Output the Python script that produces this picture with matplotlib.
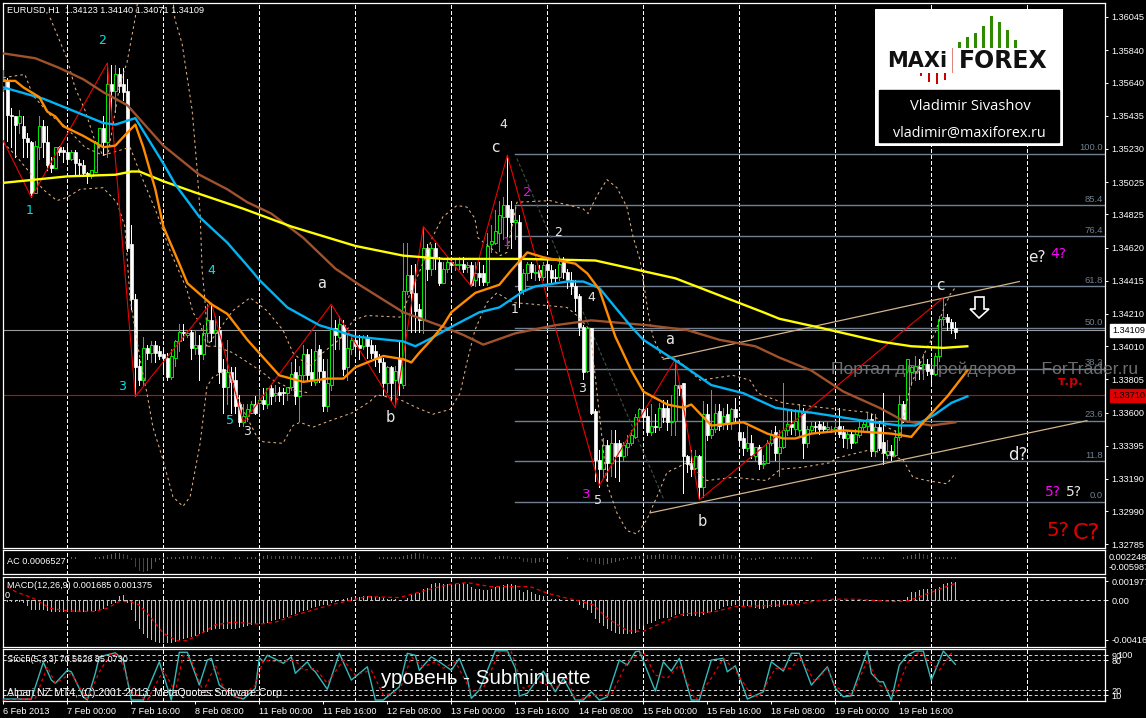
"""EURUSD H1 terminal screenshot: candles, moving averages, bands, wave marks,
Fibonacci levels and AC / MACD / Stochastic panes."""
import numpy as np
import matplotlib
matplotlib.use("Agg")
import matplotlib.pyplot as plt
from matplotlib.patches import Polygon, Rectangle

W, H = 1146, 718
PIP = 1e-4

# ---- candles, prices in pips (1.3560 -> 13560) -------------------------
opens = [
    13560,13565,13544,13543,13539,13537,13530,13527,13496,13524,
    13537,13527,13513,13511,13524,13522,13521,13517,13521,13514,
    13513,13508,13506,13509,13525,13536,13527,13563,13559,13569,
    13563,13559,13464,13430,13389,13380,13400,13397,13402,13398,
    13396,13394,13382,13394,13404,13410,13408,13410,13400,13402,
    13396,13409,13417,13409,13411,13387,13376,13385,13380,13365,
    13354,13358,13360,13365,13366,13368,13365,13375,13371,13373,
    13373,13372,13376,13385,13370,13383,13396,13385,13379,13399,
    13386,13364,13377,13412,13407,13414,13388,13399,13405,13402,
    13401,13407,13402,13398,13394,13391,13378,13388,13380,13394,
    13377,13435,13445,13434,13424,13417,13462,13449,13462,13453,
    13440,13449,13453,13451,13451,13452,13450,13451,13442,13446,
    13446,13441,13464,13465,13471,13481,13488,13486,13478,13478,
    13435,13446,13452,13446,13448,13444,13452,13448,13444,13444,
    13453,13447,13442,13438,13432,13413,13386,13412,13361,13331,
    13325,13340,13329,13341,13341,13333,13339,13341,13345,13357,
    13362,13358,13348,13352,13351,13363,13363,13354,13355,13377,
    13378,13333,13329,13326,13333,13314,13359,13346,13350,13361,
    13353,13359,13354,13362,13348,13344,13338,13341,13333,13339,
    13328,13329,13341,13348,13335,13339,13349,13353,13350,13349,
    13360,13341,13349,13352,13353,13352,13350,13350,13350,13352,
    13348,13344,13347,13342,13346,13351,13352,13356,13336,13351,
    13342,13334,13336,13334,13345,13365,13355,13385,13386,13388,
    13387,13390,13387,13384,13395,13418,13419,13416,13412,
]
highs = [
    13572,13567,13548,13543,13547,13543,13533,13528,13528,13543,
    13541,13537,13518,13524,13525,13524,13524,13522,13522,13517,
    13516,13509,13510,13528,13536,13543,13576,13575,13575,13573,
    13573,13566,13476,13433,13393,13407,13402,13404,13404,13401,
    13399,13397,13399,13405,13415,13415,13411,13411,13411,13408,
    13414,13427,13427,13420,13420,13393,13405,13388,13388,13371,
    13365,13365,13367,13370,13374,13375,13375,13377,13377,13376,
    13375,13376,13391,13393,13389,13402,13399,13399,13410,13402,
    13393,13393,13426,13417,13420,13417,13408,13408,13411,13408,
    13408,13408,13405,13402,13396,13394,13389,13389,13389,13405,
    13465,13465,13451,13452,13427,13474,13464,13464,13465,13456,
    13453,13456,13456,13454,13456,13456,13453,13453,13453,13453,
    13451,13471,13476,13485,13491,13493,13519,13491,13488,13482,
    13449,13453,13453,13451,13451,13453,13454,13451,13449,13456,
    13456,13449,13447,13442,13433,13414,13412,13412,13362,13337,
    13344,13343,13349,13349,13343,13342,13346,13349,13359,13363,
    13372,13363,13365,13359,13366,13368,13368,13371,13393,13378,
    13378,13334,13337,13337,13334,13367,13365,13374,13365,13365,
    13363,13365,13363,13369,13355,13348,13352,13346,13339,13340,
    13334,13343,13349,13352,13349,13378,13362,13362,13362,13365,
    13363,13352,13354,13354,13355,13354,13354,13352,13354,13363,
    13352,13349,13349,13350,13355,13355,13360,13359,13359,13355,
    13372,13343,13340,13349,13371,13367,13393,13389,13395,13393,
    13396,13393,13394,13397,13420,13431,13421,13418,13416,
]
lows = [
    13559,13528,13524,13518,13533,13518,13518,13493,13496,13517,
    13518,13510,13509,13511,13519,13515,13515,13516,13507,13507,
    13506,13502,13505,13509,13524,13519,13518,13546,13546,13558,
    13553,13460,13424,13370,13377,13377,13393,13391,13391,13393,
    13386,13380,13381,13389,13398,13405,13407,13393,13396,13380,
    13393,13405,13404,13402,13378,13360,13365,13360,13360,13352,
    13352,13355,13360,13359,13360,13362,13363,13365,13367,13367,
    13365,13368,13374,13365,13355,13380,13380,13377,13377,13379,
    13361,13361,13374,13399,13399,13383,13380,13396,13396,13393,
    13399,13394,13394,13389,13385,13371,13373,13368,13365,13371,
    13375,13433,13410,13410,13410,13409,13442,13445,13449,13439,
    13440,13447,13447,13448,13449,13447,13447,13438,13438,13439,
    13439,13439,13459,13464,13460,13467,13467,13462,13467,13425,
    13433,13442,13443,13442,13442,13442,13442,13440,13441,13442,
    13443,13437,13433,13423,13408,13381,13385,13359,13318,13314,
    13320,13318,13321,13320,13318,13331,13334,13340,13344,13355,
    13352,13346,13346,13348,13349,13354,13349,13346,13346,13371,
    13310,13323,13321,13325,13307,13308,13343,13344,13348,13349,
    13350,13350,13350,13355,13340,13334,13336,13332,13331,13325,
    13326,13329,13340,13331,13321,13338,13346,13347,13346,13346,
    13332,13339,13348,13348,13347,13348,13348,13348,13349,13345,
    13339,13338,13338,13341,13345,13349,13349,13333,13333,13337,
    13328,13332,13331,13333,13343,13354,13354,13377,13380,13381,
    13381,13383,13379,13383,13392,13414,13411,13409,13406,
]
closes = [
    13566,13544,13543,13538,13543,13530,13527,13496,13525,13537,
    13527,13513,13511,13524,13521,13521,13517,13521,13514,13513,
    13508,13506,13510,13527,13536,13527,13563,13559,13569,13562,
    13558,13462,13430,13388,13380,13400,13397,13402,13397,13395,
    13394,13382,13395,13404,13410,13409,13409,13400,13402,13396,
    13409,13417,13409,13411,13385,13376,13385,13379,13364,13354,
    13358,13362,13365,13360,13368,13365,13375,13370,13372,13371,
    13372,13376,13384,13370,13383,13396,13383,13380,13398,13386,
    13364,13378,13412,13408,13415,13387,13400,13405,13401,13400,
    13407,13401,13397,13393,13391,13378,13388,13378,13386,13378,
    13435,13445,13434,13423,13417,13462,13449,13462,13456,13440,
    13449,13453,13451,13452,13452,13449,13451,13439,13446,13444,
    13441,13463,13466,13472,13482,13488,13481,13478,13479,13436,
    13446,13452,13447,13447,13444,13451,13448,13443,13443,13452,
    13447,13442,13438,13431,13413,13385,13412,13360,13331,13325,
    13340,13329,13341,13333,13333,13340,13341,13346,13357,13362,
    13357,13348,13352,13351,13363,13357,13354,13355,13377,13375,
    13333,13328,13325,13333,13314,13359,13346,13350,13360,13352,
    13358,13353,13362,13357,13343,13338,13341,13334,13339,13328,
    13329,13341,13347,13335,13339,13349,13353,13351,13355,13361,
    13341,13350,13352,13351,13350,13350,13351,13350,13351,13347,
    13344,13347,13341,13347,13351,13353,13356,13336,13351,13338,
    13335,13336,13334,13345,13365,13355,13393,13388,13389,13387,
    13390,13386,13384,13395,13418,13419,13416,13412,13410,
]

# ---- moving averages (bar index, price in pips) ------------------------
yellow_x = [0,16,28,32,34,40,48,60,72,88,100,110,130,148,168,190,194,205,219,227,235,241]
yellow_y = [13502,13506,13507,13509,13509,13503,13496,13486,13475,13463,13457,13455,13455,13454,
            13443,13422,13418,13412,13404,13401,13400,13401]
blue_x = [0,10,16,25,28,33,40,43,49,56,62,64,71,79,83,88,100,103,107,112,119,124,130,133,141,145,
          149,157,160,170,177,185,193,198,202,215,224,228,233,237,241]
blue_y = [13561,13554,13548,13539,13538,13542,13514,13501,13481,13465,13448,13442,13425,13414,13411,
          13407,13404,13401,13406,13413,13422,13425,13435,13438,13441,13441,13437,13413,13405,13389,
          13377,13372,13363,13361,13360,13355,13352,13352,13359,13366,13370]
orange_x = [0,3,5,9,11,13,15,20,25,28,31,33,35,38,40,44,46,52,56,61,65,69,75,81,85,88,95,100,102,
            104,107,110,112,118,124,127,131,135,143,146,149,153,157,160,166,170,172,177,185,191,195,
            198,202,210,222,227,230,236,241]
orange_y = [13565,13565,13561,13555,13546,13543,13537,13531,13524,13525,13533,13538,13524,13498,13475,
            13452,13440,13427,13421,13405,13394,13383,13379,13381,13381,13388,13395,13393,13391,13397,
            13405,13414,13422,13434,13439,13448,13459,13456,13452,13446,13436,13407,13386,13373,13365,
            13363,13365,13352,13354,13347,13344,13344,13347,13349,13347,13345,13354,13370,13386]
brown_x = [0,8,14,20,25,31,40,43,49,56,61,67,75,83,89,100,110,115,120,128,138,147,161,171,179,188,
           194,202,210,219,225,232,238]
brown_y = [13582,13579,13573,13566,13558,13550,13525,13519,13507,13498,13490,13483,13468,13449,13439,
           13422,13413,13408,13402,13409,13414,13417,13414,13411,13405,13401,13394,13386,13373,13363,
           13355,13352,13354]

# ---- dotted envelope lines ---------------------------------------------
band_a_x = [11.7,15.9,17.9,20.4,22.9,24.9,26.2,29.2,30.9,32.9,36.7,40.4,42.9,44.7,47.2,48.4,49.2,49.7,
            50.4,51.2,52.9,57.4,59.9,64.2,66.7,72.4,76.7]
band_a_y = [13604,13579,13561,13547,13528,13519,13520,13564,13576,13603,13664,13664,13603,13588,13547,
            13512,13483,13448,13430,13401,13401,13397,13393,13386,13381,13374,13372]
band_b_x = [0,5.4,7.4,11.7,15.4,20.4,24.9,31.7,34.2,38.4,41.7,45.9,47.4,49.2,50.9,57.4,61.7,65.9,69.9,
            72.4,74.2,76.7,79.9,84.9,87.4,90.9,99.2,104.2,107.4,109.9,113.4,115.9,117.9,118.7,124.2,
            125.9,128.4,136.7,144.9,146.2,148.4,150.9,153.4,155.9,157.4,159.2,161.2,162.4,164.7,168.4,
            174.2,182.4,186.7,188.7,194.9,204.9,216.7,220.9,224.2,226.7,230.9,232.9,234.9,236.7,237.9]
band_b_y = [13567,13569,13556,13544,13537,13524,13519,13524,13508,13483,13460,13436,13422,13415,13401,
            13423,13431,13423,13411,13397,13393,13389,13397,13407,13417,13420,13419,13448,13469,13481,
            13488,13487,13480,13468,13457,13459,13490,13491,13486,13483,13494,13504,13499,13487,13469,
            13454,13422,13407,13394,13393,13380,13383,13380,13372,13366,13363,13360,13351,13347,13376,
            13400,13409,13423,13433,13437]
band_c_x = [0,3.4,7.4,9.9,13.4,15.9,19.2,24.9,28.4,30.4,31.7,34.2,35.9,37.4,39.9,42.4,44.9,46.7,49.2,
            50.9,52.4,55.9,59.9,63.4,64.9,69.9,72.4,74.2,77.4,81.7,87.4,91.7,93.4,99.2,103.4,107.4,
            111.7,114.2,115.9,117.9,120.9,123.4,127.4,132.4,140.9,143.4,146.7,149.2,150.9,153.4,155.9,
            158.4,160.9,163.4,165.9,170.9,175.9,182.4,190.9,194.2,199.2,206.7,208.4,216.7,224.9,227.4,
            230.9,235.9,237.9]
band_c_y = [13527,13518,13506,13498,13491,13493,13498,13499,13490,13475,13430,13393,13372,13351,13331,
            13308,13302,13308,13341,13376,13382,13386,13362,13345,13342,13341,13352,13354,13351,13355,
            13360,13367,13371,13368,13363,13359,13362,13372,13391,13411,13428,13434,13428,13427,13425,
            13420,13411,13355,13316,13298,13287,13285,13294,13308,13323,13329,13318,13320,13318,13325,
            13326,13329,13332,13337,13331,13320,13318,13316,13322]

# ---- wave zigzag, channel, Fibonacci -----------------------------------
zigzag_x = [0,7,26,33,52,60,82,98,105,117,126,149,168,174,235]
zigzag_y = [13528,13493,13576,13370,13428,13354,13427,13363,13475,13438,13519,13315,13393,13306,13431]
channel_up_x, channel_up_y = [165,254], [13393,13441]
channel_low_x, channel_low_y = [161.7,270.9], [13298,13355]
fib_diag_x, fib_diag_y = [128.4,165], [13517,13307]
fib_pct = ["100.0","85.4","76.4","61.8","50.0","38.2","23.6","11.8","0.0"]
fib_y = [13520,13488,13469,13438,13412,13387,13355,13330,13305]
bid_price = 1.34109
level_price = 1.33710
price_ticks = [1.36045,1.35840,1.35640,1.35435,1.35230,1.35025,1.34825,1.34620,1.34415,
               1.34210,1.34010,1.33805,1.33600,1.33395,1.33190,1.32990,1.32785]

# ---- indicator panes ---------------------------------------------------
AC_UNIT = 1.2e-4
ac_hist = [
    3,0,0,0,0,0,0,0,0,0, 0,0,0,0,0,0,0,2,2,0, 0,0,0,3,4,6,8,12,14,14,
    12,8,-3,-25,-35,-40,-35,-30,-8,-2, 2,3,3,3,4,5,5,6,5,4, 5,4,5,4,3,3,0,0,2,2,
    0,2,2,3,5,6,8,7,6,6, 6,5,5,5,5,4,4,4,4,4, 3,3,3,4,5,6,6,6,7,5,
    0,0,0,0,3,3,3,3,3,3, 5,8,13,15,14,12,5,3,2,2, 2,0,0,2,2,2,0,2,2,2,
    2,0,0,3,5,7,5,4,3,3, -8,-10,-12,-12,-10,-8,0,0,0,0, 0,2,0,0,-2,-3,-8,-10,-15,-15,
    -18,-15,-12,-8,-5,-2,2,4,5,6, 7,8,9,10,12,12,10,8,8,6, 6,4,5,5,4,3,2,5,7,10,
    12,10,8,6,4,3,-3,-2,-2,2, 2,0,0,2,2,3,3,3,3,3, 2,2,2,0,0,0,0,0,0,0,
    0,0,0,0,0,2,2,2,2,2, 2,0,0,0,0,3,5,8,12,14, 12,10,3,3,3,3,4,4,4,
]
MACD_UNIT = 3.5e-5
macd_hist = [
    -2,-2,-2,-3,-3,-5,-15,-25,-25,-25, -27,-30,-33,-33,-32,-32,-32,-32,-33,-33,
    -33,-33,-30,-28,-25,-22,-15,-8,-5,12, 15,-5,-25,-60,-85,-100,-112,-118,-122,-125,
    -125,-125,-125,-123,-118,-115,-112,-108,-105,-100, -95,-92,-88,-85,-85,-85,-85,-85,-83,-80,
    -78,-75,-72,-70,-68,-68,-65,-60,-58,-55, -50,-48,-42,-38,-32,-28,-25,-20,-18,-15,
    -12,-10,-5,-2,0,5,8,10,10,10, 12,12,12,10,10,8,5,3,3,2,
    2,8,15,22,22,35,38,50,52,52, 50,50,50,48,50,52,48,40,35,35,
    32,30,35,40,42,45,50,48,45,30, 25,30,25,20,15,12,10,5,3,3,
    2,0,0,0,-10,-20,-25,-35,-55,-65, -75,-85,-90,-95,-98,-100,-100,-100,-95,-85,
    -75,-70,-65,-60,-55,-50,-50,-48,-40,-38, -45,-45,-45,-45,-48,-40,-35,-32,-25,-22,
    -18,-15,-15,-12,-10,-15,-15,-18,-20,-22, -22,-20,-18,-18,-17,-10,-10,-8,-8,-5,
    2,2,2,2,2,0,0,0,0,0, 0,0,0,0,0,0,0,0,0,0,
    0,0,0,0,0,2,10,25,25,30, 33,33,33,33,40,48,52,55,55,
]
signal_x = [1,3,7.5,11.7,16,22.5,26,29,31.7,34,36.7,40,43.3,45.8,49,53,57.5,64,68,74,82.5,91,99,
            107.5,111.7,116,121.7,126,131.7,136,141,143,147.5,151,156,160,165,170,178,183,191,199,
            200,203,207.5,213,222.5,226,228,232.5,238]
signal_y = [1.44,0.91,0.21,-0.84,-1.12,-1.19,-0.84,-0.14,-0.14,-0.49,-1.72,-3.47,-4.27,-4.27,-3.64,
            -2.59,-2.31,-2.52,-2.31,-1.44,-0.42,0.39,0.28,1.26,1.68,1.86,1.44,1.44,1.44,0.74,0.21,
            0.04,-0.49,-1.89,-3.22,-3.29,-2.31,-1.44,-1.19,-0.67,-0.56,-0.42,-0.32,-0.07,0.11,0.11,
            -0.14,-0.07,0.21,0.91,1.79]
stoch_x = [0,7,10,12,13,16,17,20,21,23,24,28,30,32,35,39,42,44,46,49,51,52,54,58,60,63,64,65,66,68,
           70,72,73,76,77,78,81,84,87,91,93,95,99,
           101,103,104,107,109,112,114,116,117,119,123,126,128,129,131,135,138,140,143,145,147,149,
           151,154,156,158,159,163,165,167,169,172,174,177,180,181,183,186,190,192,195,197,199,
           202,206,208,210,212,215,216,217,219,220,222,224,226,228,230,232,235,238]
stoch_y = [2.5,2.5,76,40.5,34,60,57,7,0.5,54,87,95,80.5,0.5,0.5,77,0.5,96,96,30.5,80.5,84,30.5,7,2.5,
           24,85,77,90,82.5,74,87,54,77,64,57,22,94,40.5,67,0.5,0.5,27,
           94,90,60,87,77,60,84,44,4,20.5,99,99,64,8.5,14,58.5,17,44,0.5,0.5,17,0.5,7,80.5,70.5,97,
           98.5,18.5,77,58.5,84,0.5,0.5,80.5,84,57,69,2.5,17,77,58.5,94,94,
           30.5,67,24,7,9,77,99,54,37,37,0.5,70.5,90,98.5,98.5,40.5,98.5,72]
stoch_sig_x = [0,8,11,13,17,19,21,24,27,29,32,36,40,43,45,47,50,53,55,59,63,65,69,73,75,78,81,85,88,92,95,99,
               102,105,108,110,113,117,120,124,127,130,134,138,141,143,148,152,156,160,163,166,169,173,
               177,180,183,187,189,193,197,199,
               203,206,208,212,213,216,219,223,226,229,232,234,237,238]
stoch_sig_y = [0.5,4,67,34,54,27,2.5,57,94,90,17,0.5,60,17,90,80.5,17,70.5,24,2.5,30.5,80.5,77,80.5,60,64,34,
               80.5,50.5,60,10.5,17,
               87,67,77,64,77,17,24,97,97,24,37,24,44,0.5,10.5,10.5,77,97,50.5,44,70.5,0.5,44,84,60,10.5,7,
               64,64,87,
               37,64,27,12,24,80.5,30.5,14,74,97,74,60,94,90]
stoch_levels = [90,80,20,10]
time_labels = ["6 Feb 2013","7 Feb 00:00","7 Feb 16:00","8 Feb 08:00","11 Feb 00:00","11 Feb 16:00",
               "12 Feb 08:00","13 Feb 00:00","13 Feb 16:00","14 Feb 08:00","15 Feb 00:00","15 Feb 16:00",
               "18 Feb 08:00","19 Feb 00:00","19 Feb 16:00"]

# ---- wave labels: text, x px, y px, colour, size -----------------------
wave_labels = [
    ("1",30,210,"#00e5e5",9),("2",102,40,"#00e5e5",9),("3",122,386,"#00e5e5",9),
    ("4",211,270,"#00e5e5",9),("5",230,421,"#00e5e5",9),
    ("3",247,431,"#e8e8e8",9),("a",322,283,"#e8e8e8",10.5),("b",390,418,"#e8e8e8",10.5),
    ("4",503,125,"#e8e8e8",9),("c",495,147,"#e8e8e8",11),("2",558,232,"#e8e8e8",9),
    ("1",515,310,"#e8e8e8",9),("4",591,298,"#e8e8e8",9),("3",582,389,"#e8e8e8",9),
    ("5",598,501,"#e8e8e8",9),("a",670,340,"#e8e8e8",10.5),("b",702,521,"#e8e8e8",10.5),
    ("c",940,285,"#e8e8e8",11),("e?",1037,258,"#e8e8e8",11),("d?",1018,455,"#e8e8e8",12),
    ("5?",1074,492,"#e8e8e8",10),
    ("2",527,192,"#ff00ff",9.5),("1",507,242,"#ff00ff",9.5),("3",586,494,"#ff00ff",9.5),
    ("4?",1058,254,"#ff00ff",10),("5?",1053,492,"#ff00ff",10),
    ("5?",1058,531,"#e00000",14),("C?",1086,533,"#e00000",16),
]

# logo marks, in logo-local pixels
logo_green_x = [959,967,975,983,991,999,1007,1015]
logo_green_top = [42,37,33,26,16,22,30,40]
logo_red_x = [921,929,937,945]
logo_red_bottom = [76,82,84,80]

plt.rcParams["font.family"] = ["Liberation Sans", "DejaVu Sans"]
plt.rcParams["savefig.facecolor"] = "black"
BASE = 6.6


def add_pane(x0, y0, x1, y1):
    ax = fig.add_axes([x0 / W, 1 - y1 / H, (x1 - x0) / W, (y1 - y0) / H], facecolor="black")
    ax.set_xlim(-0.08, 275.42)
    for s in ax.spines.values():
        s.set_color("white")
        s.set_linewidth(0.9)
    ax.tick_params(colors="white", labelsize=BASE, length=2.5, width=0.7, pad=2,
                   left=False, labelleft=False, right=True, labelright=True,
                   bottom=False, labelbottom=False)
    for k in np.arange(16, 276, 24):
        ax.axvline(k, color="white", lw=0.75, ls=(0, (3, 2.5)), zorder=1, antialiased=False)
    return ax


def label(x, y, s, color="white", size=BASE, ha="left", va="center", **kw):
    return fig.text(x / W, 1 - y / H, s, color=color, fontsize=size, ha=ha, va=va, **kw)


fig = plt.figure(figsize=(W / 100, H / 100), dpi=100, facecolor="black")
ax = add_pane(3, 3, 1105, 548)
ax_ac = add_pane(3, 550, 1105, 574)
ax_macd = add_pane(3, 577, 1105, 647)
ax_st = add_pane(3, 649, 1105, 701)

# ---- main chart --------------------------------------------------------
o = np.array(opens) * PIP
h = np.array(highs) * PIP
l = np.array(lows) * PIP
c = np.array(closes) * PIP
bars = np.arange(len(o))
up = c >= o
GREEN = "#00e600"
ax.vlines(bars[up], l[up], h[up], color=GREEN, lw=0.72, zorder=3, antialiased=False)
ax.vlines(bars[~up], l[~up], h[~up], color="white", lw=0.72, zorder=3, antialiased=False)
ax.bar(bars[up], (c - o)[up], bottom=o[up], width=0.8, facecolor="black", edgecolor=GREEN,
       linewidth=0.72, zorder=4)
ax.bar(bars[~up], (c - o)[~up], bottom=o[~up], width=0.8, facecolor="white", edgecolor="white",
       linewidth=0.5, zorder=4)

ax.axhline(bid_price, color="#9a9a9a", lw=0.8, zorder=2)
ax.axhline(level_price, color="#e00000", lw=0.8, zorder=2)
for pct, lvl in zip(fib_pct, fib_y):
    ax.plot([128, 275.42], [lvl * PIP] * 2, color="#708090", lw=1.0, zorder=2)
ax.plot(np.array(fib_diag_x), np.array(fib_diag_y) * PIP, color="#3d4f45", lw=0.8, ls=(0, (3, 2)), zorder=2)

for xs, ys in [(band_a_x, band_a_y), (band_b_x, band_b_y), (band_c_x, band_c_y)]:
    ax.plot(xs, np.array(ys) * PIP, color="#e0b080", lw=0.75, ls=(0, (2.5, 3)), zorder=5)
ax.plot(channel_up_x, np.array(channel_up_y) * PIP, color="#d2b48c", lw=0.9, zorder=5)
ax.plot(channel_low_x, np.array(channel_low_y) * PIP, color="#d2b48c", lw=0.9, zorder=5)
ax.plot(zigzag_x, np.array(zigzag_y) * PIP, color="#f00000", lw=0.8, zorder=5)

for xs, ys, col in [(brown_x, brown_y, "#a0522d"), (yellow_x, yellow_y, "#ffff00"),
                    (blue_x, blue_y, "#00b4f5"), (orange_x, orange_y, "#ff8c00")]:
    ax.plot(xs, np.array(ys) * PIP, color=col, lw=1.7, zorder=6, solid_joinstyle="round")

ax.set_ylim(1.3615 - 548 / 16180, 1.3615 - 3 / 16180)
ax.set_yticks(price_ticks)
ax.set_yticklabels([f"{p:.5f}" for p in price_ticks])

# ---- AC ----------------------------------------------------------------
ac = np.array(ac_hist) * AC_UNIT
rising = np.r_[True, ac[1:] >= ac[:-1]]
ax_ac.vlines(bars[rising], 0, ac[rising], color="#0a9a0a", lw=0.72, zorder=2, antialiased=False)
ax_ac.vlines(bars[~rising], 0, ac[~rising], color="#e00000", lw=0.72, zorder=2, antialiased=False)
ax_ac.set_ylim(-16 * 3 * AC_UNIT, 8 * 3 * AC_UNIT)
ax_ac.set_yticks([])

# ---- MACD --------------------------------------------------------------
ax_macd.axhline(0, color="#d0d0d0", lw=0.75, ls=(0, (3, 2.5)), zorder=1)
ax_macd.vlines(bars, 0, np.array(macd_hist) * MACD_UNIT, color="#c0c0c0", lw=0.6, zorder=2, antialiased=False)
ax_macd.plot(signal_x, np.array(signal_y) * 1e-3, color="#f00000", lw=0.9, ls=(0, (3, 2.5)), zorder=3)
ax_macd.set_ylim(-0.00493, 0.00245)
ax_macd.set_yticks([0.001977, 0, -0.004163])
ax_macd.set_yticklabels(["0.001977", "0.00", "-0.004163"])

# ---- Stochastic --------------------------------------------------------
for lv in stoch_levels:
    ax_st.axhline(lv, color="#d0d0d0", lw=0.75, ls=(0, (3, 2.5)), zorder=1)
ax_st.plot(stoch_x, stoch_y, color="#36b8b8", lw=1.0, zorder=3)
ax_st.plot(stoch_sig_x, stoch_sig_y, color="#f00000", lw=0.9, ls=(0, (2.5, 2.5)), zorder=3)
ax_st.set_ylim(-1.4, 102.6)
ax_st.set_yticks(stoch_levels)
ax_st.set_yticklabels([str(v) for v in stoch_levels])
ax_st.tick_params(bottom=True, labelbottom=True, axis="x")
ax_st.set_xticks(np.arange(0, 16 * len(time_labels), 16))
ax_st.set_xticklabels(time_labels, ha="left", fontsize=BASE, color="white")

# ---- logo --------------------------------------------------------------
ax_logo = fig.add_axes([875 / W, 1 - 146 / H, 188 / W, 137 / H], facecolor="white", zorder=2)
ax_logo.set_xlim(875, 1063)
ax_logo.set_ylim(146, 9)
ax_logo.axis("off")
ax_logo.add_patch(Rectangle((875, 9), 188, 137, color="white"))
ax_logo.bar(logo_green_x, np.array(logo_green_top) - 48, bottom=48, width=3, color="#2e8b00")
ax_logo.bar(logo_red_x, np.array(logo_red_bottom) - 73, bottom=73, width=2.5, color="#cc0000")
ax_logo.plot([952, 952], [48, 72], color="#e08080", lw=0.7)
ax_logo.add_patch(Rectangle((879, 90), 180, 52, color="black"))
ax_logo.text(917, 61, "MAXi", fontsize=15, fontweight="bold", family="DejaVu Sans", color="#111111",
             ha="center", va="center")
ax_logo.text(1003, 61, "FOREX", fontsize=17, fontweight="bold", family="DejaVu Sans", color="#111111",
             ha="center", va="center")
ax_logo.text(970, 107, "Vladimir Sivashov", fontsize=10.6, color="white", family="Open Sans",
             ha="center", va="center")
ax_logo.text(969, 133, "vladimir@maxiforex.ru", fontsize=10.4, color="white", family="Open Sans",
             ha="center", va="center")

# ---- texts -------------------------------------------------------------
label(7, 10, "EURUSD,H1  1.34123 1.34140 1.34071 1.34109")
label(7, 561, "AC 0.0006527")
label(7, 586, "MACD(12,26,9) 0.001685 0.001375")
label(7, 659, "Stoch(5,3,3) 70.5628 85.0730")
label(7, 693, "Alpari NZ MT4, (C) 2001-2013, MetaQuotes Software Corp.", size=7.6)
label(5, 596, "0")
label(1109, 558, "0.002248")
label(1109, 568, "-0.005987")
label(1117, 656, "100")

for text, x, y, col, size in wave_labels:
    label(x, y, text, color=col, size=size, ha="center", family="DejaVu Sans")
label(1071, 382, "т.р.", color="#d00000", size=9, ha="center", fontweight="bold", family="DejaVu Sans")
for pct, lvl in zip(fib_pct, fib_y):
    y_px = (1.3615 - lvl * PIP) * 16180
    label(1103, y_px - 6, pct, color="#708090", size=6.8, ha="right")

label(985, 369, "Портал для трейдеров  -  ForTrader.ru", color="#808080", size=12.6, ha="center", alpha=0.85)
label(486, 679, "уровень - Subminuette", color="white", size=14.8, ha="center")

label(1112, 330.5, "1.34109", color="black", bbox=dict(facecolor="white", edgecolor="white", pad=1.6))
label(1112, 395.5, "1.33710", color="black", bbox=dict(facecolor="#e00000", edgecolor="#e00000", pad=1.6))

arrow = np.array([[975, 297], [984, 297], [984, 309], [989, 309], [979, 318], [970, 309], [975, 309]], float)
fig.add_artist(Polygon(np.c_[arrow[:, 0] / W, 1 - arrow[:, 1] / H], closed=True, transform=fig.transFigure,
                       facecolor="black", edgecolor="white", lw=1.2, zorder=3))

fig.savefig("out.png", dpi=100, facecolor="black")
